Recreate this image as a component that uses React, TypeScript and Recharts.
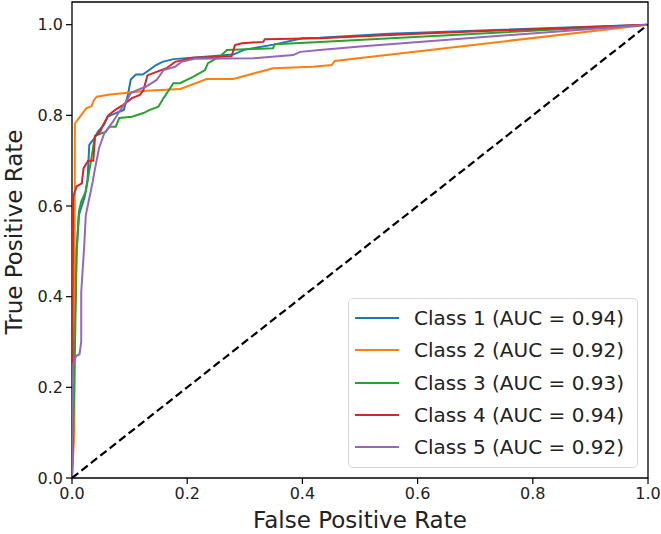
import React from "react";
import {
  LineChart,
  Line,
  XAxis,
  YAxis,
  ReferenceArea,
} from "recharts";

// Colors (matplotlib tab10)
const COLORS = ["#1f77b4", "#ff7f0e", "#2ca02c", "#d62728", "#9467bd"];
const FONT = "DejaVu Sans, Verdana, sans-serif";

const CLASS_NAMES = ["Class 1", "Class 2", "Class 3", "Class 4", "Class 5"];
const AUC = [0.94, 0.92, 0.93, 0.94, 0.92];

const TICKS = [0, 0.2, 0.4, 0.6, 0.8, 1.0];

// ROC points
const class1Fpr = [0, 0.003, 0.008, 0.012, 0.017, 0.022, 0.027, 0.03, 0.039, 0.045, 0.056, 0.062, 0.082, 0.09, 0.097, 0.102, 0.111, 0.123, 0.134, 0.146, 0.157, 0.176, 0.28, 0.3, 0.35, 0.4, 0.43, 0.55, 1.0];
const class1Tpr = [0, 0.25, 0.5, 0.58, 0.6, 0.62, 0.658, 0.735, 0.75, 0.764, 0.78, 0.797, 0.808, 0.812, 0.845, 0.879, 0.89, 0.89, 0.9, 0.911, 0.918, 0.924, 0.934, 0.945, 0.956, 0.97, 0.971, 0.98, 1.0];

const class2Fpr = [0, 0.004, 0.005, 0.014, 0.025, 0.034, 0.038, 0.043, 0.066, 0.13, 0.188, 0.234, 0.28, 0.349, 0.418, 0.451, 0.456, 1.0];
const class2Tpr = [0, 0.1, 0.782, 0.797, 0.816, 0.82, 0.834, 0.841, 0.846, 0.854, 0.858, 0.88, 0.88, 0.904, 0.907, 0.911, 0.92, 1.0];

const class3Fpr = [0, 0.004, 0.008, 0.012, 0.016, 0.024, 0.033, 0.04, 0.059, 0.065, 0.076, 0.082, 0.104, 0.124, 0.135, 0.15, 0.159, 0.176, 0.1875, 0.21, 0.231, 0.236, 0.257, 0.269, 0.303, 0.349, 0.352, 0.43, 1.0];
const class3Tpr = [0, 0.2, 0.5, 0.588, 0.61, 0.632, 0.7, 0.755, 0.764, 0.775, 0.775, 0.794, 0.797, 0.805, 0.812, 0.819, 0.838, 0.871, 0.871, 0.885, 0.9, 0.915, 0.93, 0.944, 0.946, 0.948, 0.957, 0.962, 1.0];

const class4Fpr = [0, 0.002, 0.008, 0.017, 0.02, 0.028, 0.037, 0.04, 0.049, 0.054, 0.063, 0.075, 0.089, 0.104, 0.118, 0.124, 0.131, 0.141, 0.164, 0.179, 0.21, 0.277, 0.283, 0.295, 0.332, 0.335, 0.43, 0.6, 1.0];
const class4Tpr = [0, 0.62, 0.643, 0.65, 0.683, 0.7, 0.7, 0.753, 0.764, 0.779, 0.8, 0.812, 0.823, 0.838, 0.845, 0.856, 0.888, 0.893, 0.904, 0.918, 0.927, 0.93, 0.955, 0.959, 0.962, 0.968, 0.97, 0.98, 1.0];

const class5Fpr = [0, 0.002, 0.007, 0.013, 0.016, 0.016, 0.018, 0.021, 0.024, 0.03, 0.036, 0.039, 0.047, 0.056, 0.071, 0.082, 0.094, 0.102, 0.114, 0.128, 0.147, 0.159, 0.17, 0.179, 0.19, 0.213, 0.315, 0.384, 0.396, 0.43, 0.5, 1.0];
const class5Tpr = [0, 0.25, 0.269, 0.273, 0.3, 0.41, 0.449, 0.507, 0.58, 0.617, 0.654, 0.676, 0.728, 0.76, 0.786, 0.808, 0.83, 0.849, 0.856, 0.863, 0.878, 0.9, 0.904, 0.907, 0.918, 0.925, 0.926, 0.933, 0.94, 0.944, 0.952, 1.0];

const chanceFpr = [0, 1];
const chanceTpr = [0, 1];

const zip = (xs: number[], ys: number[]) => xs.map((x, i) => ({ x, y: ys[i] }));

const SERIES = [
  zip(class1Fpr, class1Tpr),
  zip(class2Fpr, class2Tpr),
  zip(class3Fpr, class3Tpr),
  zip(class4Fpr, class4Tpr),
  zip(class5Fpr, class5Tpr),
];

const tickStyle = { fontSize: 16, fill: "#222", fontFamily: FONT };
const labelStyle = { fontSize: 23, fill: "#222", fontFamily: FONT };

export default function App() {
  return (
    <div
      style={{
        position: "absolute",
        left: 0,
        top: 0,
        width: 661,
        height: 534,
        background: "#fff",
      }}
    >
      <LineChart
        width={661}
        height={534}
        margin={{ top: 2, right: 13, bottom: 0, left: 0 }}
      >
        <XAxis
          type="number"
          dataKey="x"
          domain={[0, 1]}
          ticks={TICKS}
          tickFormatter={(v: number) => v.toFixed(1)}
          allowDataOverflow
          height={56}
          tick={tickStyle}
          tickSize={6}
          tickMargin={4}
          tickLine={{ stroke: "#000", strokeWidth: 1.2 }}
          axisLine={false}
          label={{
            content: () => (
              <text x={360} y={528} textAnchor="middle" style={labelStyle}>
                False Positive Rate
              </text>
            ),
          }}
        />
        <YAxis
          type="number"
          dataKey="y"
          domain={[0, 1.05]}
          ticks={TICKS}
          tickFormatter={(v: number) => v.toFixed(1)}
          allowDataOverflow
          width={72}
          tick={tickStyle}
          tickSize={6}
          tickMargin={3}
          tickLine={{ stroke: "#000", strokeWidth: 1.2 }}
          axisLine={false}
          label={{
            content: () => (
              <text
                x={22}
                y={232}
                textAnchor="middle"
                transform="rotate(-90, 22, 232)"
                style={labelStyle}
              >
                True Positive Rate
              </text>
            ),
          }}
        />

        {SERIES.map((data, i) => (
          <Line
            key={CLASS_NAMES[i]}
            data={data}
            dataKey="y"
            type="linear"
            stroke={COLORS[i]}
            strokeWidth={2}
            dot={false}
            activeDot={false}
            isAnimationActive={false}
          />
        ))}

        {/* chance diagonal */}
        <Line
          data={zip(chanceFpr, chanceTpr)}
          dataKey="y"
          type="linear"
          stroke="#000"
          strokeWidth={2.2}
          strokeDasharray="8 4"
          dot={false}
          activeDot={false}
          isAnimationActive={false}
        />

        {/* axes frame */}
        <ReferenceArea
          x1={0}
          x2={1}
          y1={0}
          y2={1.05}
          fill="none"
          fillOpacity={0}
          stroke="#000"
          strokeWidth={1.3}
          ifOverflow="visible"
        />
      </LineChart>

      {/* Legend */}
      <div
        style={{
          position: "absolute",
          left: 348,
          top: 298,
          width: 290,
          height: 170,
          boxSizing: "border-box",
          border: "1px solid #d6d6d6",
          borderRadius: 5,
          background: "rgba(255,255,255,0.8)",
          fontFamily: FONT,
          fontSize: 20,
          color: "#222",
          paddingTop: 3,
        }}
      >
        {CLASS_NAMES.map((name, i) => (
          <div
            key={name}
            style={{
              display: "flex",
              alignItems: "center",
              height: 32.3,
            }}
          >
            <svg width={65} height={10} style={{ flex: "none" }}>
              <line x1={6} x2={50} y1={5} y2={5} stroke={COLORS[i]} strokeWidth={2} />
            </svg>
            <span style={{ whiteSpace: "nowrap" }}>
              {name} (AUC = {AUC[i].toFixed(2)})
            </span>
          </div>
        ))}
      </div>
    </div>
  );
}
